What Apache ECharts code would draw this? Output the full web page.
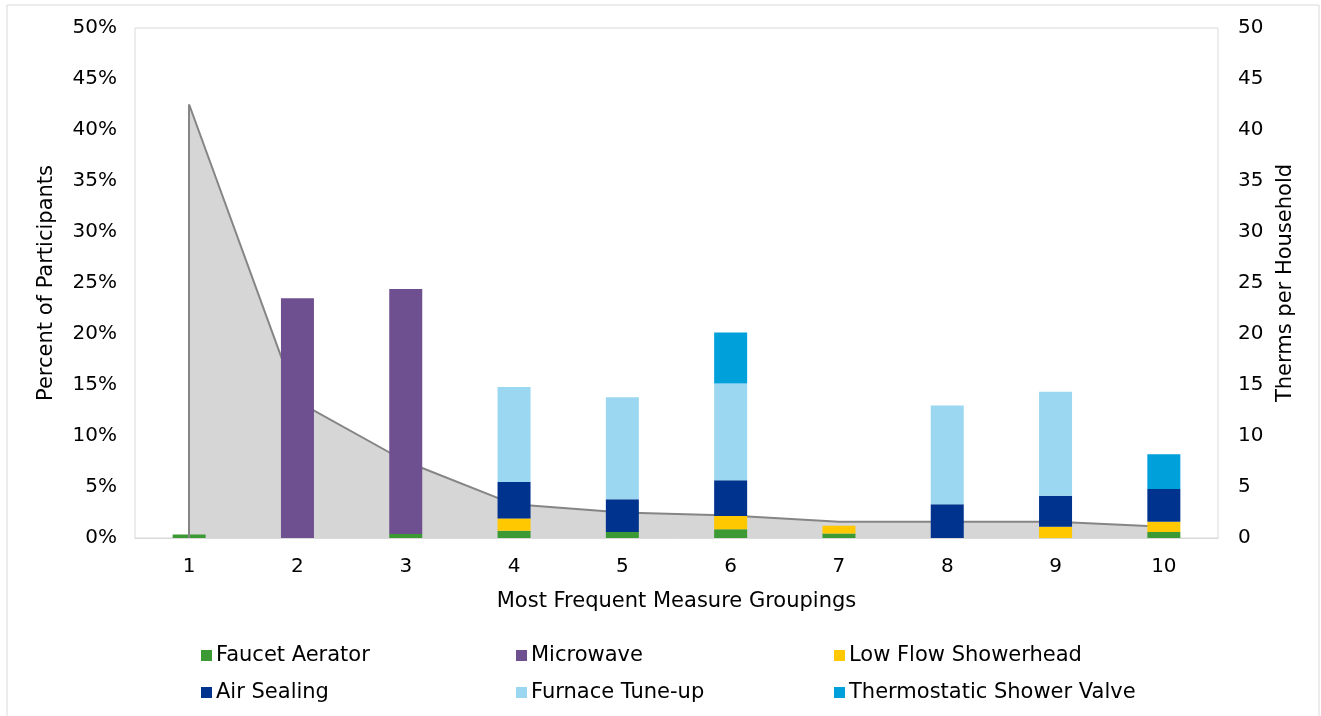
<!DOCTYPE html>
<html>
<head>
  <meta charset="utf-8">
  <title>Measure Groupings</title>
  <script src="https://cdn.jsdelivr.net/npm/echarts@6/dist/echarts.min.js"></script>
</head>
<body style="margin:0">
<div id="main" style="width: 1321px;height:716px;"></div>
<script type="text/javascript">
  // data
  var groupings = ['1', '2', '3', '4', '5', '6', '7', '8', '9', '10'];
  var pctParticipants = [42.5, 13.4, 7.5, 3.3, 2.5, 2.2, 1.6, 1.6, 1.6, 1.1];
  var faucetAerator  = [0.35, 0, 0.4, 0.7, 0.6, 0.85, 0.45, 0, 0, 0.6];
  var microwave      = [0, 23.5, 24.0, 0, 0, 0, 0, 0, 0, 0];
  var lowFlowShower  = [0, 0, 0, 1.2, 0, 1.3, 0.75, 0, 1.1, 1.0];
  var airSealing     = [0, 0, 0, 3.6, 3.2, 3.5, 0, 3.3, 3.05, 3.2];
  var furnaceTuneup  = [0, 0, 0, 9.3, 10.0, 9.5, 0, 9.7, 10.2, 0];
  var thermoValve    = [0, 0, 0, 0, 0, 5.0, 0, 0, 0, 3.4];

  var font = 'DejaVu Sans';
  var names = ['Faucet Aerator', 'Microwave', 'Low Flow Showerhead',
               'Air Sealing', 'Furnace Tune-up', 'Thermostatic Shower Valve'];
  var colors = ['#3C9A34', '#6E4F8F', '#FFC800', '#00338D', '#9BD7F0', '#00A0DA'];
  var values = [faucetAerator, microwave, lowFlowShower, airSealing, furnaceTuneup, thermoValve];

  var myChart = echarts.init(document.getElementById('main'));

  // gray area (left axis) sits behind the stacked bars (right axis)
  var series = [{
    name: 'Percent',
    type: 'line',
    yAxisIndex: 0,
    z: 1,
    data: pctParticipants,
    symbol: 'none',
    lineStyle: { color: '#858585', width: 2 },
    areaStyle: { color: '#D6D6D6', opacity: 1 },
    silent: true,
    markLine: {
      silent: true,
      symbol: 'none',
      label: { show: false },
      lineStyle: { color: '#858585', width: 2, type: 'solid' },
      data: [[{ coord: [groupings[0], 0] }, { coord: [groupings[0], pctParticipants[0]] }]]
    }
  }];
  for (var i = 0; i < names.length; i++) {
    series.push({
      name: names[i],
      type: 'bar',
      stack: 'therms',
      yAxisIndex: 1,
      z: 3,
      barWidth: 33,
      itemStyle: { color: colors[i] },
      data: values[i]
    });
  }

  // legend laid out as a 3 x 2 grid
  var legendPos = [[196, 640], [511, 640], [829, 640], [196, 677], [511, 677], [829, 677]];
  var legends = names.map(function (n, k) {
    return {
      data: [n],
      left: legendPos[k][0],
      top: legendPos[k][1],
      itemWidth: 11,
      itemHeight: 11,
      itemGap: 4,
      icon: 'rect',
      textStyle: { fontFamily: font, fontSize: 21, color: '#000', padding: [0, 0, 0, -1] }
    };
  });

  var option = {
    animation: false,
    color: colors,
    legend: legends,
    graphic: [{
      type: 'rect',
      shape: { x: 7, y: 5, width: 1312, height: 712 },
      style: { fill: 'none', stroke: '#D9D9D9', lineWidth: 1 },
      silent: true
    }],
    grid: {
      left: 135, right: 103, top: 28, bottom: 178,
      show: true, borderColor: '#D9D9D9', borderWidth: 1
    },
    xAxis: {
      type: 'category',
      data: groupings,
      boundaryGap: true,
      name: 'Most Frequent Measure Groupings',
      nameLocation: 'middle',
      nameGap: 53,
      nameTextStyle: { fontFamily: font, fontSize: 21, color: '#000' },
      axisLine: { lineStyle: { color: '#D9D9D9' } },
      axisTick: { show: false },
      axisLabel: { fontFamily: font, fontSize: 20, color: '#000', margin: 19 }
    },
    yAxis: [{
      type: 'value',
      min: 0, max: 50, interval: 5,
      name: 'Percent of Participants',
      nameLocation: 'middle',
      nameGap: 78,
      nameTextStyle: { fontFamily: font, fontSize: 21, color: '#000' },
      axisLine: { show: false },
      axisTick: { show: false },
      splitLine: { show: false },
      axisLabel: { fontFamily: font, fontSize: 20, color: '#000', margin: 18, formatter: '{value}%' }
    }, {
      type: 'value',
      min: 0, max: 50, interval: 5,
      name: 'Therms per Household',
      nameLocation: 'middle',
      nameGap: 57,
      nameRotate: 90,
      nameTextStyle: { fontFamily: font, fontSize: 21, color: '#000' },
      axisLine: { show: false },
      axisTick: { show: false },
      splitLine: { show: false },
      axisLabel: { fontFamily: font, fontSize: 20, color: '#000', margin: 20 }
    }],
    series: series
  };

  myChart.setOption(option);
</script>
</body>
</html>
